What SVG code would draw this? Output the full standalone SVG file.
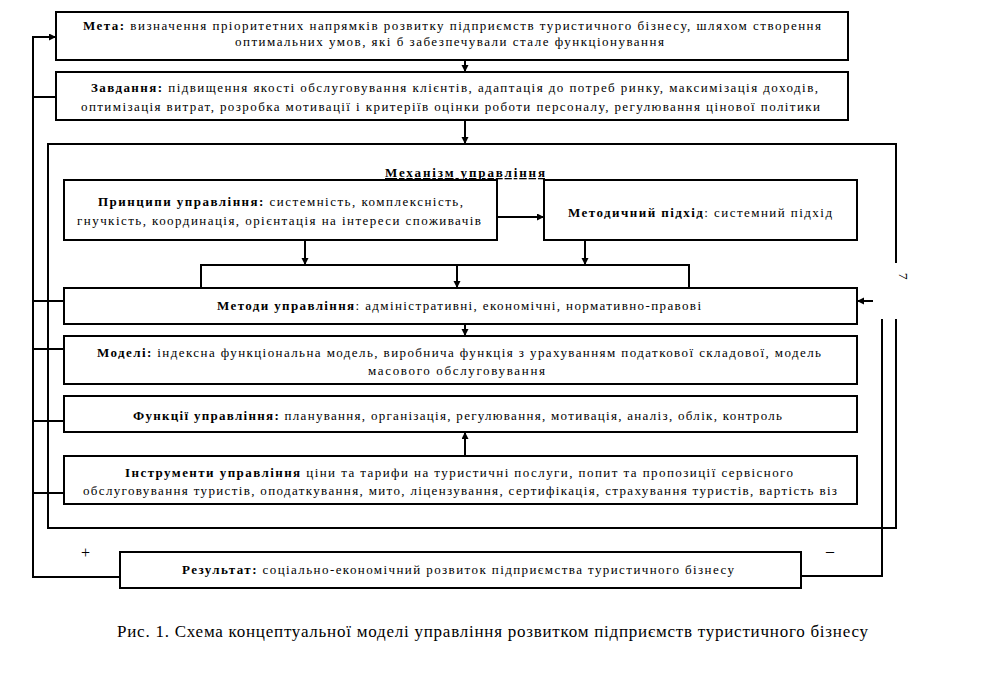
<svg xmlns="http://www.w3.org/2000/svg" width="986" height="674" viewBox="0 0 986 674">
<style>
  .box{fill:#fff;stroke:#000;stroke-width:1.2;shape-rendering:crispEdges}
  .ln{fill:none;stroke:#000;stroke-width:1.2;shape-rendering:crispEdges}
  .t{font-family:"Liberation Serif","Times New Roman",serif;font-size:13px;fill:#000}
  .b{font-weight:bold}
  .cap{font-family:"Liberation Serif","Times New Roman",serif;font-size:17px;fill:#000}
</style>
<defs>
  <marker id="ah" markerUnits="userSpaceOnUse" markerWidth="8" markerHeight="8" refX="7" refY="3.5" orient="auto">
    <path d="M0,0 L7,3.5 L0,7 z" fill="#000"/>
  </marker>
</defs>
<rect width="986" height="674" fill="#fff"/>

<g id="mechanism">
  <path class="ln" d="M896,263 V144 H48 V528 H896 V319"/>
  <text class="t b" x="385" y="177" textLength="160" lengthAdjust="spacing" text-decoration="underline">Механізм управління</text>
  <text class="t" transform="translate(899,273) rotate(90)">7</text>
</g>

<g id="connectors">
  <polyline class="ln" points="120,577 33,577 33,37 56,37" marker-end="url(#ah)"/>
  <line class="ln" x1="33" y1="97" x2="56" y2="97"/>
  <line class="ln" x1="33" y1="301" x2="64" y2="301"/>
  <line class="ln" x1="33" y1="349" x2="64" y2="349"/>
  <line class="ln" x1="33" y1="421" x2="64" y2="421"/>
  <line class="ln" x1="33" y1="493" x2="64" y2="493"/>
  <line class="ln" x1="465" y1="60" x2="465" y2="72" marker-end="url(#ah)"/>
  <line class="ln" x1="465" y1="120" x2="465" y2="144" marker-end="url(#ah)"/>
  <line class="ln" x1="497" y1="217" x2="544" y2="217" marker-end="url(#ah)"/>
  <line class="ln" x1="305" y1="240" x2="305" y2="265" marker-end="url(#ah)"/>
  <line class="ln" x1="585" y1="240" x2="585" y2="265" marker-end="url(#ah)"/>
  <polyline class="ln" points="201,288 201,265 689,265 689,288"/>
  <line class="ln" x1="457" y1="265" x2="457" y2="288" marker-end="url(#ah)"/>
  <line class="ln" x1="465" y1="324" x2="465" y2="336" marker-end="url(#ah)"/>
  <line class="ln" x1="465" y1="456" x2="465" y2="432" marker-end="url(#ah)"/>
  <polyline class="ln" points="801,576 882,576 882,319"/>
  <line class="ln" x1="873" y1="301" x2="857" y2="301" marker-end="url(#ah)"/>
  <text class="t" x="81" y="558" style="font-size:16px">+</text>
  <text class="t" x="826" y="556" style="font-size:16px">–</text>
</g>

<g id="meta">
  <rect class="box" x="56" y="12" width="792" height="48"/>
  <text class="t" x="83" y="30" textLength="738" lengthAdjust="spacing"><tspan class="b">Мета:</tspan> визначення пріоритетних напрямків  розвитку підприємств туристичного бізнесу, шляхом створення</text>
  <text class="t" x="235" y="46" textLength="429" lengthAdjust="spacing">оптимальних умов, які б забезпечували стале функціонування</text>
</g>

<g id="zavdannya">
  <rect class="box" x="56" y="72" width="792" height="48"/>
  <text class="t" x="91" y="92" textLength="727" lengthAdjust="spacing"><tspan class="b">Завдання:</tspan>  підвищення якості обслуговування клієнтів, адаптація до потреб ринку, максимізація доходів,</text>
  <text class="t" x="81" y="111" textLength="739" lengthAdjust="spacing">оптимізація витрат, розробка мотивації і критеріїв оцінки роботи персоналу, регулювання цінової політики</text>
</g>

<g id="pryntsypy">
  <rect class="box" x="64" y="180" width="433" height="60"/>
  <text class="t" x="98" y="206" textLength="365" lengthAdjust="spacing"><tspan class="b">Принципи управління:</tspan> системність, комплексність,</text>
  <text class="t" x="77" y="225" textLength="404" lengthAdjust="spacing">гнучкість,  координація, орієнтація на інтереси споживачів</text>
</g>

<g id="pidkhid">
  <rect class="box" x="544" y="180" width="313" height="60"/>
  <text class="t" x="568" y="217" textLength="264" lengthAdjust="spacing"><tspan class="b">Методичний підхід</tspan>: системний підхід</text>
</g>

<g id="metody">
  <rect class="box" x="64" y="288" width="793" height="36"/>
  <text class="t" x="217" y="310" textLength="484" lengthAdjust="spacing"><tspan class="b">Методи управління</tspan>: адміністративні, економічні, нормативно-правові</text>
</g>

<g id="modeli">
  <rect class="box" x="64" y="336" width="793" height="48"/>
  <text class="t" x="97" y="357" textLength="724" lengthAdjust="spacing"><tspan class="b">Моделі:</tspan> індексна функціональна модель, виробнича функція з урахуванням податкової складової, модель</text>
  <text class="t" x="368" y="375" textLength="177" lengthAdjust="spacing">масового обслуговування</text>
</g>

<g id="funktsii">
  <rect class="box" x="64" y="396" width="793" height="36"/>
  <text class="t" x="133" y="420" textLength="649" lengthAdjust="spacing"><tspan class="b">Функції управління:</tspan> планування, організація, регулювання, мотивація, аналіз, облік, контроль</text>
</g>

<g id="instrumenty">
  <rect class="box" x="64" y="456" width="793" height="48"/>
  <text class="t" x="125" y="477" textLength="668" lengthAdjust="spacing"><tspan class="b">Інструменти управління</tspan>  ціни та тарифи на туристичні послуги, попит та пропозиції   сервісного</text>
  <text class="t" x="83" y="495" textLength="754" lengthAdjust="spacing">обслуговування туристів, оподаткування, мито, ліцензування, сертифікація, страхування туристів, вартість віз</text>
</g>

<g id="rezultat">
  <rect class="box" x="120" y="552" width="681" height="36"/>
  <text class="t" x="182" y="574" textLength="552" lengthAdjust="spacing"><tspan class="b">Результат:</tspan> соціально-економічний розвиток підприємства туристичного бізнесу</text>
</g>

<text class="cap" x="117" y="637" textLength="751" lengthAdjust="spacing">Рис. 1.  Схема концептуальної моделі управління розвитком підприємств туристичного бізнесу</text>
</svg>
